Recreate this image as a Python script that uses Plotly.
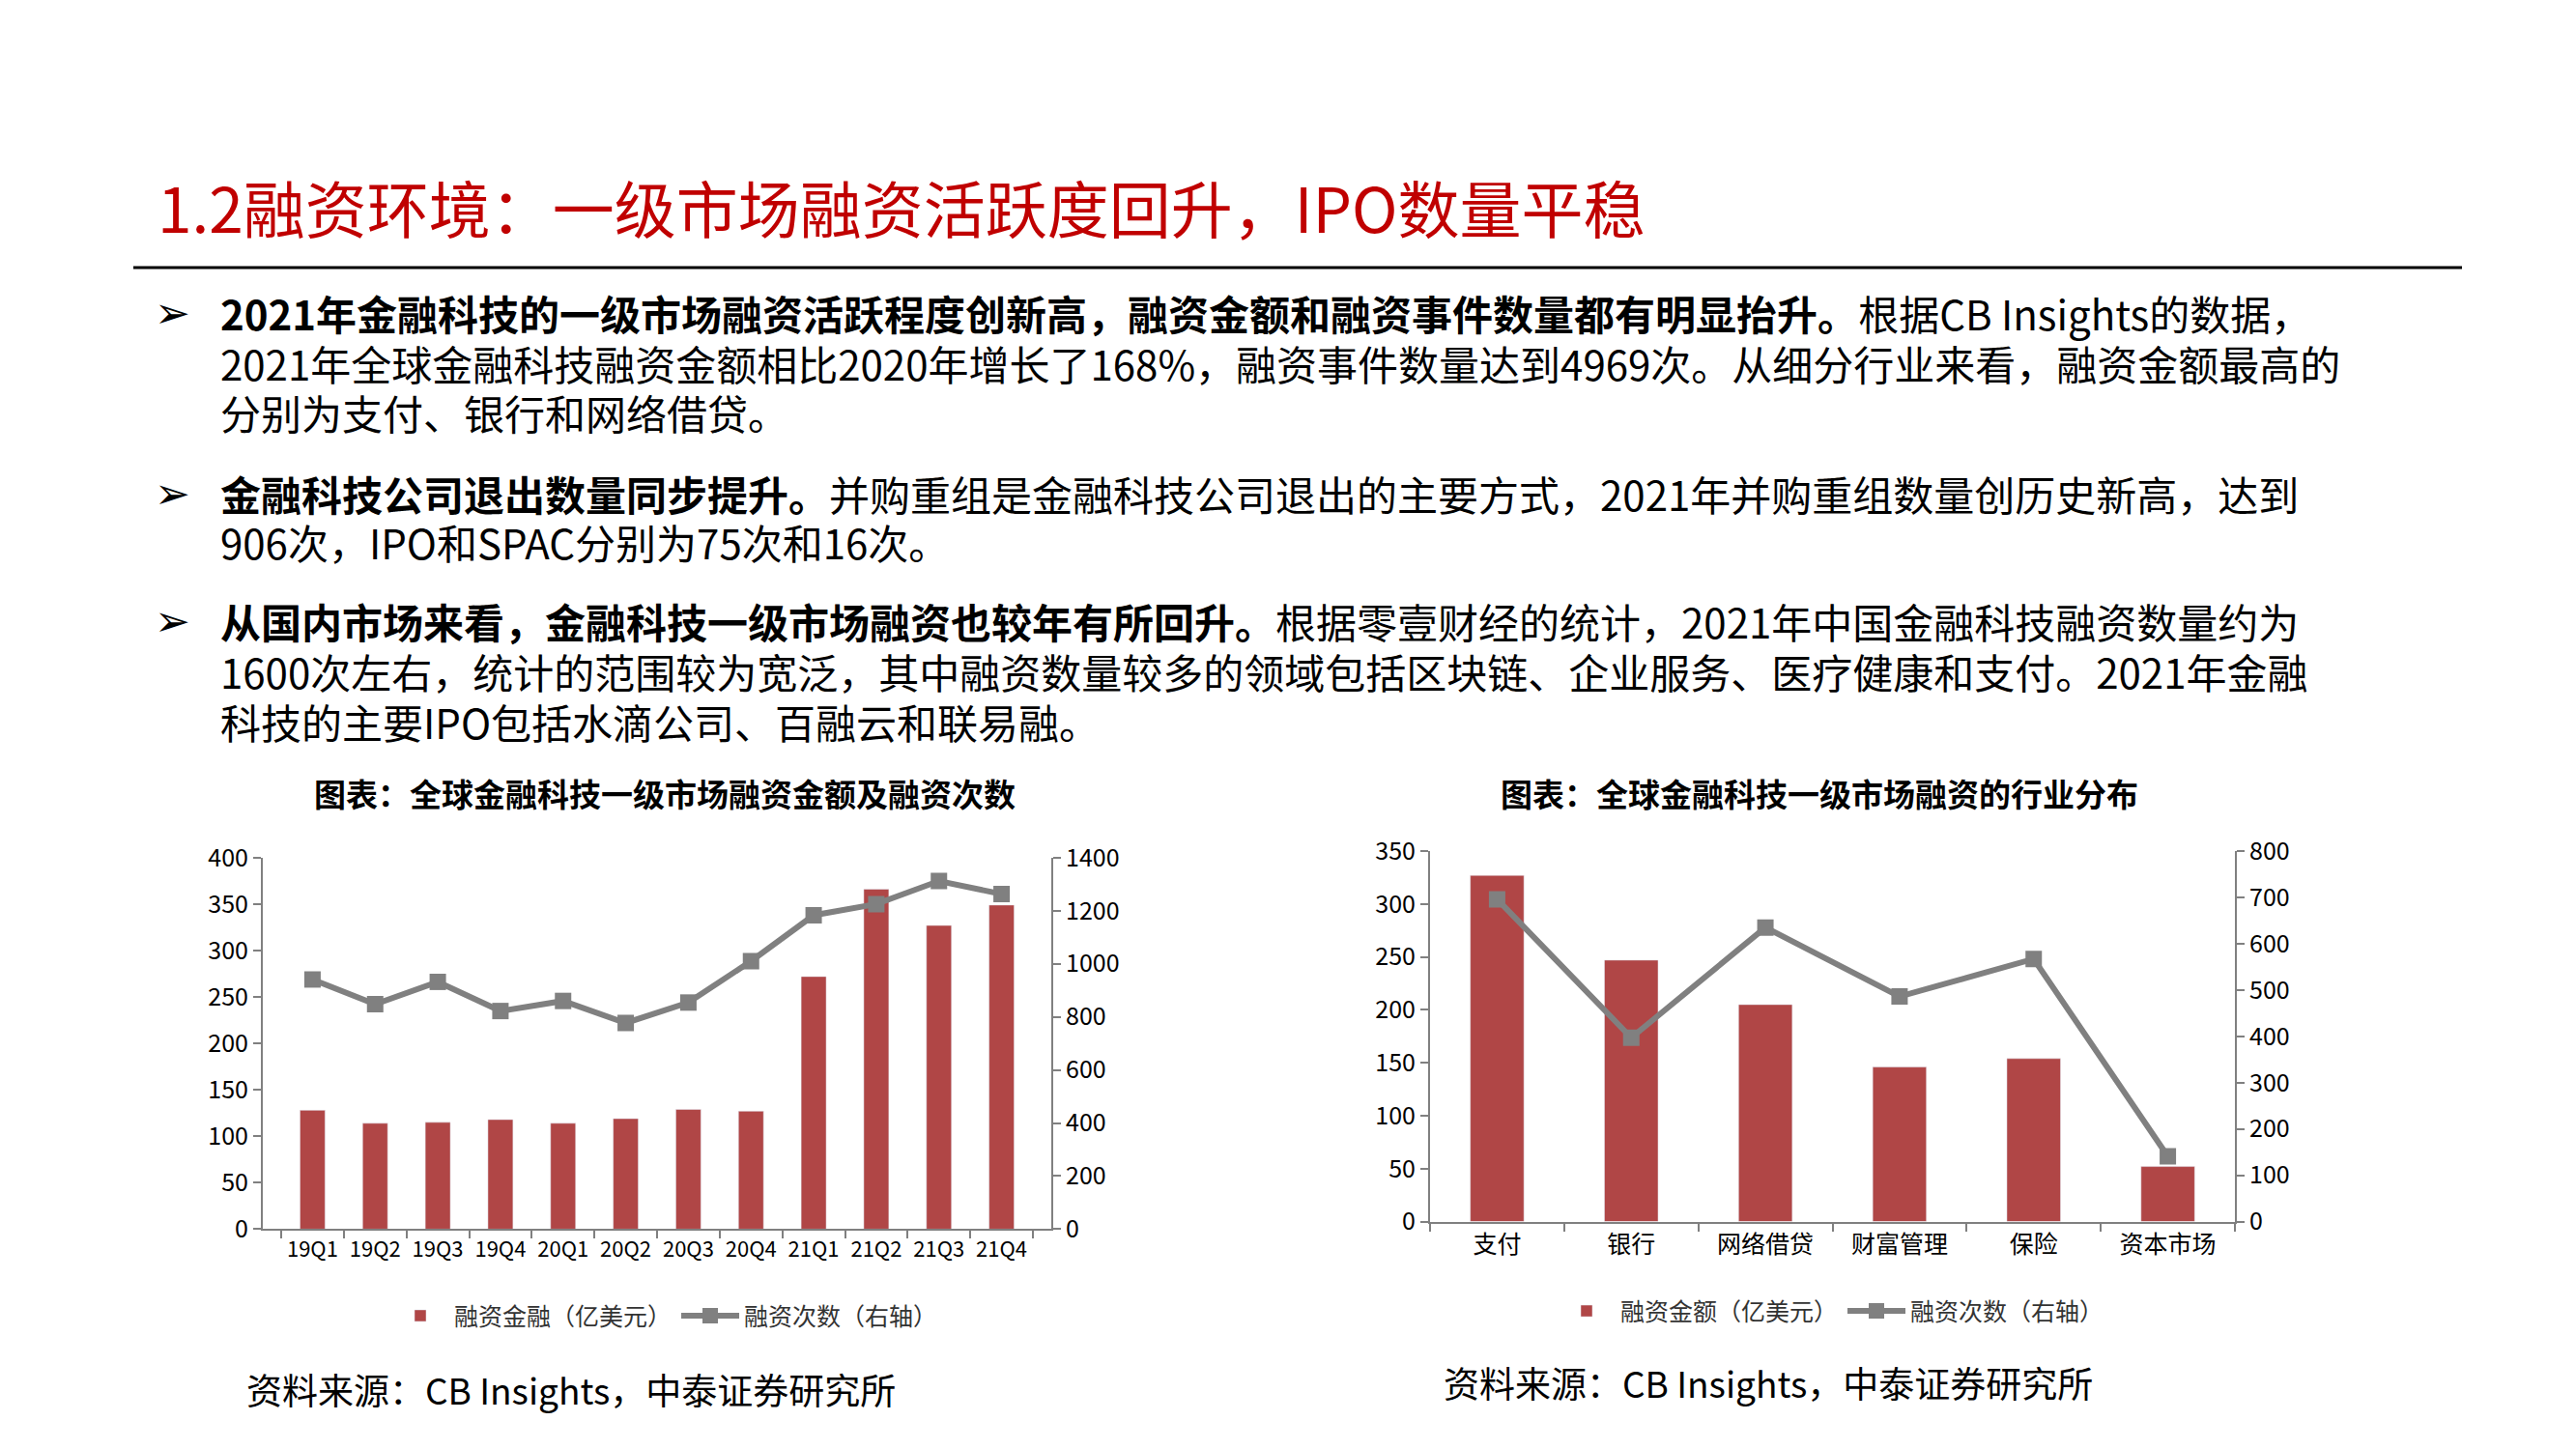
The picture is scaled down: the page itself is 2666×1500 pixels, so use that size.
import plotly.graph_objects as go

# left chart: global fintech primary market funding
quarters = ['19Q1', '19Q2', '19Q3', '19Q4', '20Q1', '20Q2', '20Q3', '20Q4', '21Q1', '21Q2', '21Q3', '21Q4']
amount_q = [128, 114, 115, 118, 114, 119, 129, 127, 272, 366, 327, 349]
deals_q = [941, 848, 932, 822, 860, 777, 854, 1010, 1183, 1225, 1312, 1263]

# right chart: by sector
sectors = ['支付', '银行', '网络借贷', '财富管理', '保险', '资本市场']
amount_s = [327, 247, 205, 146, 154, 52]
deals_s = [696, 397, 635, 486, 567, 141]

title = '1.2融资环境：一级市场融资活跃度回升，IPO数量平稳'
bullets = [
    ['<b>2021年金融科技的一级市场融资活跃程度创新高，融资金额和融资事件数量都有明显抬升。</b>根据CB Insights的数据，',
     '2021年全球金融科技融资金额相比2020年增长了168%，融资事件数量达到4969次。从细分行业来看，融资金额最高的',
     '分别为支付、银行和网络借贷。'],
    ['<b>金融科技公司退出数量同步提升。</b>并购重组是金融科技公司退出的主要方式，2021年并购重组数量创历史新高，达到',
     '906次，IPO和SPAC分别为75次和16次。'],
    ['<b>从国内市场来看，金融科技一级市场融资也较年有所回升。</b>根据零壹财经的统计，2021年中国金融科技融资数量约为',
     '1600次左右，统计的范围较为宽泛，其中融资数量较多的领域包括区块链、企业服务、医疗健康和支付。2021年金融',
     '科技的主要IPO包括水滴公司、百融云和联易融。'],
]

W, H = 2666, 1500
FONT = 'Noto Sans CJK SC'
BAR = '#B04646'
GRAY = '#808080'


def py(y):
    return 1 - y / H


fig = go.Figure()
fig.add_trace(go.Bar(x=quarters, y=amount_q, name='融资金融（亿美元）', marker_color=BAR,
                     width=0.4, xaxis='x', yaxis='y', legend='legend'))
fig.add_trace(go.Scatter(x=quarters, y=deals_q, name='融资次数（右轴）', mode='lines+markers',
                         line=dict(color=GRAY, width=6), marker=dict(symbol='square', size=17, color=GRAY),
                         xaxis='x', yaxis='y2', legend='legend'))
fig.add_trace(go.Bar(x=sectors, y=amount_s, name='融资金额（亿美元）', marker_color=BAR,
                     width=0.4, xaxis='x2', yaxis='y3', legend='legend2'))
fig.add_trace(go.Scatter(x=sectors, y=deals_s, name='融资次数（右轴）', mode='lines+markers',
                         line=dict(color=GRAY, width=6), marker=dict(symbol='square', size=17, color=GRAY),
                         xaxis='x2', yaxis='y4', legend='legend2'))

axis_common = dict(showline=True, linecolor=GRAY, linewidth=2, ticks='outside', tickcolor=GRAY,
                   ticklen=8, tickwidth=2, showgrid=False, zeroline=False,
                   tickfont=dict(size=25, color='black', family=FONT))

fig.update_layout(
    width=W, height=H, margin=dict(l=0, r=0, t=0, b=0),
    paper_bgcolor='white', plot_bgcolor='white',
    font=dict(family=FONT, color='black'),
    bargap=0.6,
    xaxis=dict(domain=[264 / W, 1080 / W], anchor='y', tickson='boundaries', tickangle=0,
               **{**axis_common, 'tickfont': dict(size=22, color='black', family=FONT)}),
    yaxis=dict(domain=[py(1275), py(881)], range=[0, 400], dtick=50, anchor='x', **axis_common),
    yaxis2=dict(overlaying='y', side='right', range=[0, 1400], dtick=200, anchor='x', **axis_common),
    xaxis2=dict(domain=[1472 / W, 2305 / W], anchor='y3', tickson='boundaries', tickangle=0, **axis_common),
    yaxis3=dict(domain=[py(1267), py(874)], range=[0, 350], dtick=50, anchor='x2', **axis_common),
    yaxis4=dict(overlaying='y3', side='right', range=[0, 800], dtick=100, anchor='x2', **axis_common),
    legend=dict(orientation='h', x=680 / W, xanchor='center', y=py(1367), yanchor='middle',
                font=dict(size=25, color='#333333'), itemwidth=60),
    legend2=dict(orientation='h', x=1887 / W, xanchor='center', y=py(1362), yanchor='middle',
                 font=dict(size=25, color='#333333'), itemwidth=60),
)

ann = [dict(text=title, x=153 / W, y=py(190), xanchor='left', yanchor='middle',
            font=dict(size=64, color='#C00000', family=FONT))]

line_y = [[303, 356, 408], [494, 546], [630, 683, 736]]
for para, ys in zip(bullets, line_y):
    ann.append(dict(text='➢', x=170 / W, y=py(ys[0]), xanchor='center', yanchor='middle',
                    font=dict(size=44, color='black', family='DejaVu Sans')))
    for txt, yy in zip(para, ys):
        ann.append(dict(text=txt, x=218 / W, y=py(yy), xanchor='left', yanchor='middle',
                        font=dict(size=42, color='black', family=FONT)))

ann += [
    dict(text='<b>图表：全球金融科技一级市场融资金额及融资次数</b>', x=680 / W, y=py(813),
         xanchor='center', yanchor='middle', font=dict(size=33, family=FONT)),
    dict(text='<b>图表：全球金融科技一级市场融资的行业分布</b>', x=1875 / W, y=py(813),
         xanchor='center', yanchor='middle', font=dict(size=33, family=FONT)),
    dict(text='资料来源：CB Insights，中泰证券研究所', x=245 / W, y=py(1445),
         xanchor='left', yanchor='middle', font=dict(size=37, family=FONT)),
    dict(text='资料来源：CB Insights，中泰证券研究所', x=1484 / W, y=py(1438),
         xanchor='left', yanchor='middle', font=dict(size=37, family=FONT)),
]
for a in ann:
    a.update(xref='paper', yref='paper', showarrow=False)
fig.update_layout(annotations=ann)

fig.add_shape(type='line', xref='paper', yref='paper', x0=130 / W, x1=2540 / W,
              y0=py(255), y1=py(255), line=dict(color='black', width=3))

fig.write_html('out.html')
